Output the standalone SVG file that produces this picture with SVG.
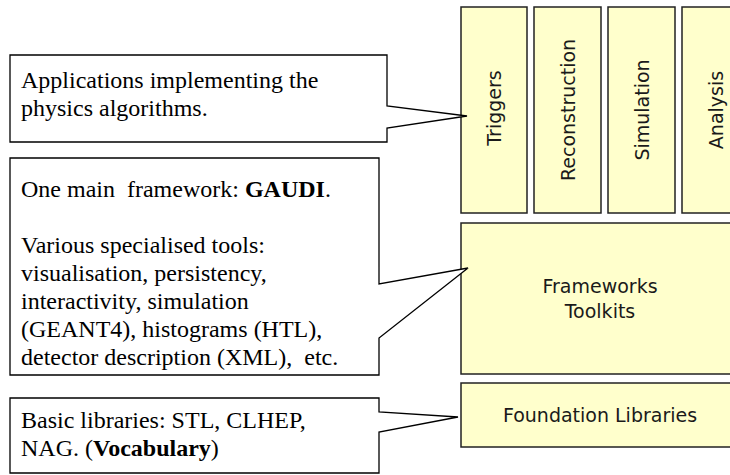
<svg xmlns="http://www.w3.org/2000/svg" width="730" height="475" viewBox="0 0 730 475">
<style>
.box{fill:#FFFFCC;stroke:#222;stroke-width:1.5}
.call{fill:#fff;stroke:#000;stroke-width:1.3;stroke-linejoin:miter}
.lbl{font-family:"DejaVu Sans",Verdana,sans-serif;font-size:19px;fill:#1a1a1a;text-anchor:middle}
.txt{font-family:"Liberation Serif","Times New Roman",serif;font-size:24px;fill:#000;white-space:pre}
.b{font-weight:bold}
</style>
<rect width="730" height="475" fill="#fff"/>
<g id="triggers"><rect class="box" x="461" y="7" width="66" height="206"/><text class="lbl" transform="translate(494,108) rotate(-90)" dominant-baseline="central">Triggers</text></g>
<g id="reconstruction"><rect class="box" x="534" y="7" width="67" height="206"/><text class="lbl" transform="translate(567.5,110) rotate(-90)" dominant-baseline="central">Reconstruction</text></g>
<g id="simulation"><rect class="box" x="608" y="7" width="67" height="206"/><text class="lbl" transform="translate(641.5,110) rotate(-90)" dominant-baseline="central">Simulation</text></g>
<g id="analysis"><rect class="box" x="682" y="7" width="67" height="206"/><text class="lbl" transform="translate(715.5,110) rotate(-90)" dominant-baseline="central">Analysis</text></g>
<g id="frameworks"><rect class="box" x="461" y="223" width="278" height="151"/><text class="lbl" x="600" y="293">Frameworks</text><text class="lbl" x="600" y="318">Toolkits</text></g>
<g id="foundation"><rect class="box" x="461" y="383" width="278" height="64"/><text class="lbl" x="600" y="422">Foundation Libraries</text></g>
<g id="connectors"></g>
<g id="callout-apps"><path class="call" d="M10,55 H387 V106 L467,116 L387,128 V142 H10 Z"/>
<text class="txt" x="21" y="88">Applications implementing the</text>
<text class="txt" x="21" y="116">physics algorithms.</text></g>
<g id="callout-frameworks"><path class="call" d="M10,158 H379 V284 L468,268 L379,338 V375 H10 Z"/>
<text class="txt" x="21" y="197">One main  framework: <tspan class="b">GAUDI</tspan>.</text>
<text class="txt" x="21" y="253">Various specialised tools:</text>
<text class="txt" x="21" y="281">visualisation, persistency,</text>
<text class="txt" x="21" y="309">interactivity, simulation</text>
<text class="txt" x="21" y="337">(GEANT4), histograms (HTL),</text>
<text class="txt" x="21" y="365">detector description (XML),  etc.</text></g>
<g id="callout-foundation"><path class="call" d="M10,398 H379 V412 L458,417 L379,432 V473 H10 Z"/>
<text class="txt" x="21" y="428">Basic libraries: STL, CLHEP,</text>
<text class="txt" x="21" y="456">NAG. (<tspan class="b">Vocabulary</tspan>)</text></g>
</svg>
